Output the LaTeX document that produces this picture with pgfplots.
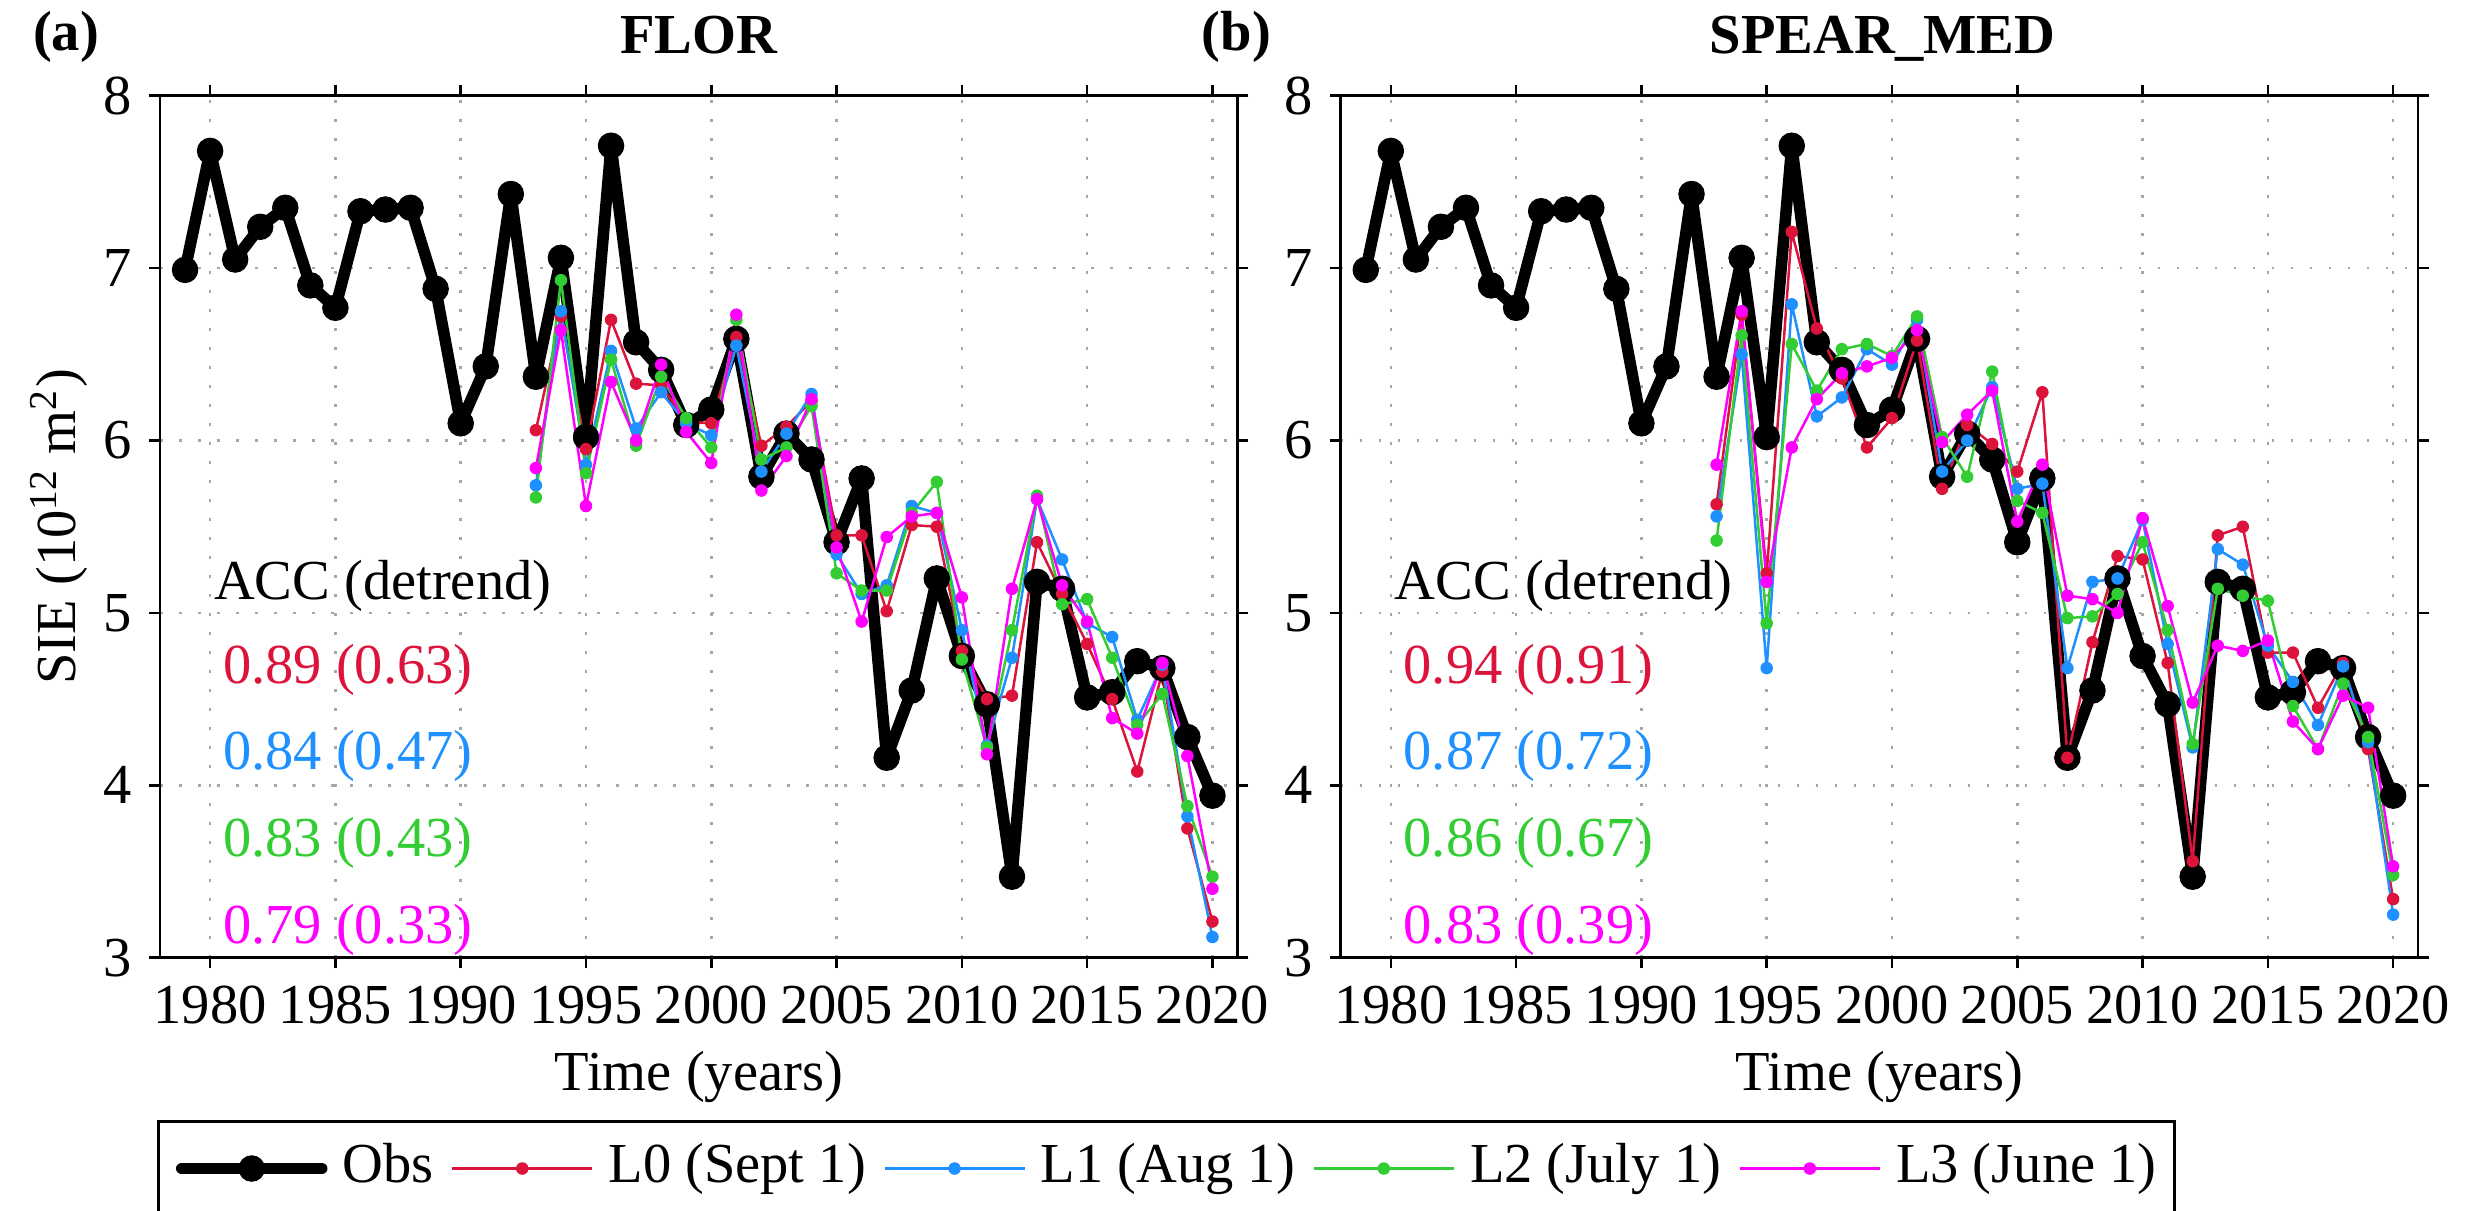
\documentclass[border=0pt]{standalone}
\usepackage{fontspec}
\setmainfont{Liberation Serif}
\usepackage{pgfplots}
\usepackage{pgfplotstable}
\pgfplotsset{compat=1.18}

\definecolor{cLz}{RGB}{220,20,60}
\definecolor{cLa}{RGB}{30,144,255}
\definecolor{cLb}{RGB}{50,205,50}
\definecolor{cLc}{RGB}{255,0,255}
\newcommand\fsz{\fontsize{11.3}{13}\selectfont}
\newcommand\fszb{\fontsize{11.3}{13}\selectfont\bfseries}

\pgfplotstableread{
year obs
1979 6.99
1980 7.68
1981 7.05
1982 7.24
1983 7.35
1984 6.90
1985 6.77
1986 7.33
1987 7.34
1988 7.35
1989 6.88
1990 6.10
1991 6.43
1992 7.43
1993 6.37
1994 7.06
1995 6.02
1996 7.71
1997 6.57
1998 6.41
1999 6.09
2000 6.18
2001 6.59
2002 5.79
2003 6.04
2004 5.89
2005 5.41
2006 5.78
2007 4.16
2008 4.55
2009 5.20
2010 4.75
2011 4.47
2012 3.47
2013 5.18
2014 5.14
2015 4.51
2016 4.54
2017 4.72
2018 4.68
2019 4.28
2020 3.94
}\obsdata

\pgfplotstableread{
year L0 L1 L2 L3
1993 6.06 5.74 5.67 5.84
1994 6.72 6.75 6.93 6.64
1995 5.95 5.86 5.81 5.62
1996 6.70 6.52 6.47 6.34
1997 6.33 6.07 5.97 6.00
1998 6.32 6.28 6.37 6.44
1999 6.11 6.10 6.13 6.05
2000 6.10 6.03 5.96 5.87
2001 6.60 6.55 6.70 6.73
2002 5.97 5.82 5.89 5.71
2003 6.08 6.04 5.96 5.91
2004 6.23 6.27 6.20 6.24
2005 5.45 5.34 5.23 5.38
2006 5.45 5.11 5.13 4.95
2007 5.01 5.16 5.13 5.44
2008 5.51 5.62 5.58 5.56
2009 5.50 5.58 5.76 5.58
2010 4.78 4.90 4.73 5.09
2011 4.50 4.23 4.22 4.18
2012 4.52 4.74 4.90 5.14
2013 5.41 5.66 5.68 5.66
2014 5.11 5.31 5.05 5.16
2015 4.82 4.94 5.08 4.95
2016 4.50 4.86 4.74 4.39
2017 4.08 4.38 4.35 4.30
2018 4.66 4.70 4.53 4.71
2019 3.75 3.82 3.88 4.17
2020 3.21 3.12 3.47 3.40
}\flordata

\pgfplotstableread{
year L0 L1 L2 L3
1993 5.63 5.56 5.42 5.86
1994 6.73 6.50 6.61 6.75
1995 5.23 4.68 4.94 5.18
1996 7.21 6.79 6.56 5.96
1997 6.65 6.14 6.29 6.24
1998 6.36 6.25 6.53 6.39
1999 5.96 6.53 6.56 6.43
2000 6.13 6.44 6.49 6.48
2001 6.58 6.70 6.72 6.64
2002 5.72 5.82 6.02 5.99
2003 6.09 6.00 5.79 6.15
2004 5.98 6.31 6.40 6.29
2005 5.82 5.72 5.65 5.53
2006 6.28 5.75 5.58 5.86
2007 4.16 4.68 4.97 5.10
2008 4.83 5.18 4.98 5.08
2009 5.33 5.20 5.11 5.00
2010 5.31 5.54 5.41 5.55
2011 4.71 4.82 4.90 5.04
2012 3.56 4.22 4.24 4.48
2013 5.45 5.37 5.14 4.81
2014 5.50 5.28 5.10 4.78
2015 4.77 4.81 5.07 4.84
2016 4.77 4.60 4.46 4.37
2017 4.45 4.35 4.21 4.21
2018 4.71 4.69 4.59 4.52
2019 4.21 4.25 4.28 4.45
2020 3.34 3.25 3.48 3.53
}\speardata

\pgfplotsset{
  sieaxis/.style={
    scale only axis, width=215.5pt, height=172.4pt,
    anchor=south west,
    xmin=1978, xmax=2021, ymin=3, ymax=8,
    xtick={1980,1985,...,2020}, ytick={3,4,5,6,7,8},
    tick align=outside, tick pos=both, major tick length=2.14pt,
    grid=major,
    major grid style={gray!70, line width=0.5pt, dash pattern=on 0.5pt off 3.3pt},
    axis line style={line width=0.5pt},
    every tick/.style={black, line width=0.5pt},
    tick label style={font=\fsz},
    label style={font=\fsz},
    /pgf/number format/assume math mode=true,
    xticklabel style={/pgf/number format/1000 sep={}},
    xlabel={Time (years)},
    xlabel style={at={(axis description cs:0.5,-0.1535)}, anchor=base},
    legend image code/.code={\draw[mark repeat=2,mark phase=2,##1] plot coordinates {(0pt,0pt) (14pt,0pt) (28pt,0pt)};},
  },
  obsstyle/.style={black, line width=2.3pt, line join=round, line cap=round, mark=*, mark size=2.55pt, mark options={solid, line width=0.2pt}},
  modstyle/.style={#1, line width=0.5pt, line join=round, mark=*, mark size=1.15pt, mark options={solid, line width=0.2pt, fill=#1}},
}

\begin{document}
\begin{tikzpicture}
\begin{axis}[sieaxis, at={(32pt,50.46pt)},
  ylabel={SIE (10\textsuperscript{12} m\textsuperscript{2})},
  ylabel style={at={(axis description cs:-0.078,0.5)}, anchor=base},
  legend columns=5, legend cell align=left,
  legend style={at={(axis description cs:-0.0028,-0.1883)}, anchor=north west,
    draw=black, line width=0.6pt, inner xsep=3.5pt, inner ysep=4.1pt, font=\fsz,
    nodes={inner sep=0pt, text height=8pt, text depth=2.6pt},
    /tikz/every odd column/.append style={column sep=3.0pt},
    /tikz/every even column/.append style={column sep=3.5pt}},
]
\addplot[obsstyle] table[x=year,y=obs] {\obsdata};
\addlegendentry{Obs}
\addplot[modstyle=cLz] table[x=year,y=L0] {\flordata};
\addlegendentry{L0 (Sept 1)}
\addplot[modstyle=cLa] table[x=year,y=L1] {\flordata};
\addlegendentry{L1 (Aug 1)}
\addplot[modstyle=cLb] table[x=year,y=L2] {\flordata};
\addlegendentry{L2 (July 1)}
\addplot[modstyle=cLc] table[x=year,y=L3] {\flordata};
\addlegendentry{L3 (June 1)}
\end{axis}

\begin{axis}[sieaxis, at={(268.14pt,50.46pt)}]
\addplot[obsstyle] table[x=year,y=obs] {\obsdata};
\addplot[modstyle=cLz] table[x=year,y=L0] {\speardata};
\addplot[modstyle=cLa] table[x=year,y=L1] {\speardata};
\addplot[modstyle=cLb] table[x=year,y=L2] {\speardata};
\addplot[modstyle=cLc] table[x=year,y=L3] {\speardata};
\end{axis}

\node[font=\fszb, anchor=base] at (139.7pt,231.3pt) {FLOR};
\node[font=\fszb, anchor=base] at (376.5pt,231.3pt) {SPEAR\_MED};
\node[font=\fszb, anchor=base] at (13.2pt,232pt) {(a)};
\node[font=\fszb, anchor=base] at (247.3pt,232pt) {(b)};

\begin{scope}[every node/.style={font=\fsz, anchor=base west, inner sep=0pt}]
\node at (42.6pt,122.2pt) {ACC (detrend)};
\node[text=cLz] at (44.4pt,105.4pt) {0.89 (0.63)};
\node[text=cLa] at (44.4pt,88.06pt) {0.84 (0.47)};
\node[text=cLb] at (44.4pt,70.74pt) {0.83 (0.43)};
\node[text=cLc] at (44.4pt,53.4pt) {0.79 (0.33)};
\node at (278.74pt,122.2pt) {ACC (detrend)};
\node[text=cLz] at (280.54pt,105.4pt) {0.94 (0.91)};
\node[text=cLa] at (280.54pt,88.06pt) {0.87 (0.72)};
\node[text=cLb] at (280.54pt,70.74pt) {0.86 (0.67)};
\node[text=cLc] at (280.54pt,53.4pt) {0.83 (0.39)};
\end{scope}

\pgfresetboundingbox
\path[use as bounding box] (0pt,0pt) rectangle (495.2pt,242pt);
\end{tikzpicture}
\end{document}
